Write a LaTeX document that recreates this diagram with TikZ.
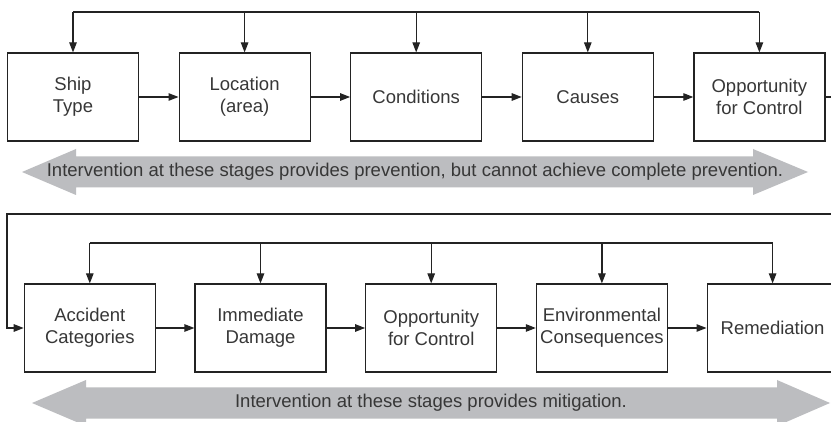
\documentclass[tikz,border=0pt]{standalone}
\usepackage{fontspec}
\setmainfont{Liberation Sans}
\usetikzlibrary{arrows.meta}
\definecolor{band}{RGB}{188,189,192}
\definecolor{ink}{RGB}{35,35,35}
\definecolor{txt}{RGB}{55,55,55}
\begin{document}
\begin{tikzpicture}[x=1pt,y=-1pt,
  stage/.style={draw=ink, line width=1.2pt, minimum width=131pt, minimum height=88pt,
    inner sep=0pt, align=center, font=\fontsize{18.5}{22}\selectfont, text=txt},
  conn/.style={draw=ink, line width=1.2pt, -{Triangle[length=10pt,width=7.5pt]}},
  wire/.style={draw=ink, line width=1.2pt},
  bandtext/.style={font=\fontsize{18.5}{22}\selectfont, text=txt, inner sep=0pt}
]
\useasboundingbox (0,0) rectangle (831,422);
\clip (0,0) rectangle (831,422);
\fill[white] (0,0) rectangle (831,422);

% top row
\node[stage] (s1) at (73,97)    {Ship\\Type};
\node[stage] (s2) at (244.6,97) {Location\\(area)};
\node[stage] (s3) at (416.2,97) {Conditions};
\node[stage] (s4) at (587.8,97) {Causes};
\node[stage] (s5) at (759.4,97) {Opportunity\\for Control};

% bottom row
\node[stage] (b1) at (89.8,328)  {Accident\\Categories};
\node[stage] (b2) at (260.5,328) {Immediate\\Damage};
\node[stage] (b3) at (431.2,328) {Opportunity\\for Control};
\node[stage] (b4) at (601.9,328) {Environmental\\Consequences};
\node[stage] (b5) at (772.6,328) {Remediation};

% feedback levels
\coordinate (fbtop) at (0,12);
\coordinate (fbbot) at (0,243);
\coordinate (outR) at (845,0);
\coordinate (outRow) at (0,214);
\coordinate (outL) at (7,0);

% horizontal flow
\foreach \a/\b in {s1/s2,s2/s3,s3/s4,s4/s5,b1/b2,b2/b3,b3/b4,b4/b5}
  \draw[conn] (\a.east) -- (\b.west);

% top feedback
\draw[wire] (s1.north |- fbtop) -- (s5.north |- fbtop);
\foreach \n in {s1,s2,s3,s4,s5}
  \draw[conn] (\n.north |- fbtop) -- (\n.north);

% bottom feedback
\draw[wire] (b1.north |- fbbot) -- (b5.north |- fbbot);
\foreach \n in {b1,b2,b3,b4,b5}
  \draw[conn] (\n.north |- fbbot) -- (\n.north);

% link between rows
\draw[conn] (s5.east) -- (s5.east -| outR) -- (outR |- outRow) -- (outL |- outRow) |- (b1.west);

% bands
\fill[band] (22,172) -- (76,149) -- (76,156.5) -- (753,156.5) -- (753,149) -- (808,172)
  -- (753,195) -- (753,187.5) -- (76,187.5) -- (76,195) -- cycle;
\node[bandtext] (t1) at (415,172) {Intervention at these stages provides prevention, but cannot achieve complete prevention.};

\fill[band] (32,403) -- (86,380) -- (86,387.5) -- (777,387.5) -- (777,380) -- (830,403)
  -- (777,426) -- (777,418.5) -- (86,418.5) -- (86,426) -- cycle;
\node[bandtext] (t2) at (431,403) {Intervention at these stages provides mitigation.};
\end{tikzpicture}
\end{document}
